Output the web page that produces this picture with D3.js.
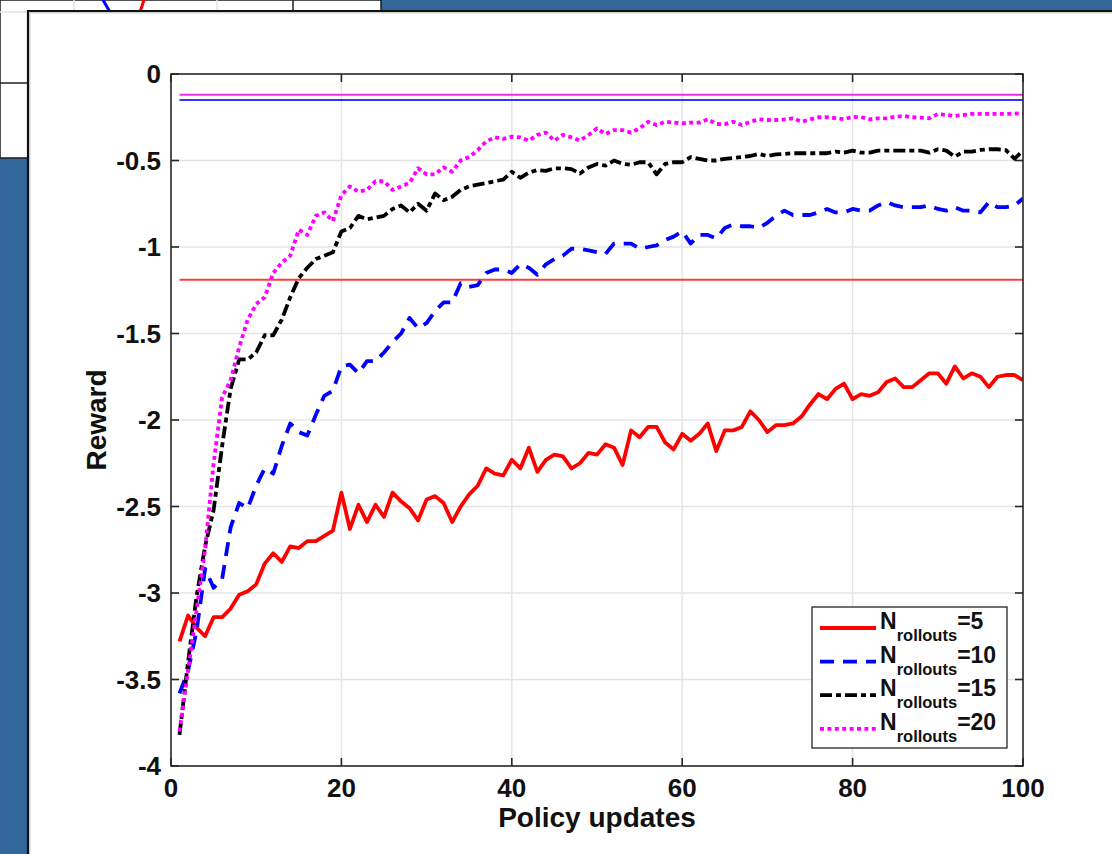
<!DOCTYPE html>
<html>
<head>
<meta charset="utf-8">
<script src="https://cdn.jsdelivr.net/npm/d3@7"></script>
<style>
  html, body { margin: 0; padding: 0; background: #fff; }
  svg { display: block; }
  text { font-family: "Liberation Sans", Arial, Helvetica, sans-serif; font-weight: bold; fill: #111; }
</style>
</head>
<body>
<svg id="chart" width="1112" height="854"></svg>
<script>
// policy updates 1..100
const updates = d3.range(1, 101);

// reward per update
const rollouts5 = [
  -3.28,-3.13,-3.20,-3.25,-3.14,-3.14,-3.09,-3.01,-2.99,-2.95,
  -2.83,-2.77,-2.82,-2.73,-2.74,-2.70,-2.70,-2.67,-2.64,-2.42,
  -2.63,-2.49,-2.59,-2.49,-2.56,-2.42,-2.47,-2.51,-2.58,-2.46,
  -2.44,-2.48,-2.59,-2.50,-2.43,-2.38,-2.28,-2.31,-2.32,-2.23,
  -2.28,-2.16,-2.30,-2.23,-2.20,-2.21,-2.28,-2.25,-2.19,-2.20,
  -2.14,-2.16,-2.26,-2.06,-2.10,-2.04,-2.04,-2.13,-2.17,-2.08,
  -2.12,-2.08,-2.02,-2.18,-2.06,-2.06,-2.04,-1.95,-2.00,-2.07,
  -2.03,-2.03,-2.02,-1.98,-1.91,-1.85,-1.88,-1.82,-1.79,-1.88,
  -1.85,-1.86,-1.84,-1.78,-1.76,-1.81,-1.81,-1.77,-1.73,-1.73,
  -1.79,-1.69,-1.76,-1.73,-1.75,-1.81,-1.75,-1.74,-1.74,-1.77
];
const rollouts10 = [
  -3.58,-3.45,-3.22,-2.86,-2.97,-2.92,-2.62,-2.48,-2.51,-2.38,
  -2.28,-2.31,-2.15,-2.02,-2.07,-2.09,-1.97,-1.86,-1.83,-1.69,
  -1.68,-1.73,-1.66,-1.66,-1.61,-1.55,-1.50,-1.41,-1.47,-1.44,
  -1.37,-1.32,-1.32,-1.21,-1.23,-1.22,-1.15,-1.13,-1.13,-1.15,
  -1.10,-1.12,-1.16,-1.10,-1.07,-1.05,-1.01,-1.01,-1.02,-1.03,
  -1.04,-0.98,-0.98,-0.98,-1.01,-1.00,-0.99,-0.96,-0.94,-0.91,
  -0.98,-0.93,-0.93,-0.95,-0.89,-0.87,-0.88,-0.88,-0.89,-0.86,
  -0.82,-0.79,-0.815,-0.815,-0.815,-0.80,-0.78,-0.80,-0.80,-0.78,
  -0.79,-0.79,-0.76,-0.74,-0.76,-0.77,-0.77,-0.77,-0.76,-0.78,
  -0.79,-0.77,-0.79,-0.79,-0.80,-0.74,-0.77,-0.77,-0.76,-0.72
];
const rollouts15 = [
  -3.82,-3.40,-3.02,-2.73,-2.52,-2.15,-1.82,-1.65,-1.65,-1.61,
  -1.51,-1.51,-1.42,-1.29,-1.18,-1.12,-1.07,-1.05,-1.03,-0.91,
  -0.89,-0.82,-0.84,-0.83,-0.82,-0.78,-0.76,-0.80,-0.75,-0.79,
  -0.69,-0.73,-0.71,-0.67,-0.65,-0.64,-0.63,-0.62,-0.61,-0.565,
  -0.60,-0.57,-0.555,-0.56,-0.545,-0.545,-0.55,-0.575,-0.54,-0.52,
  -0.53,-0.50,-0.52,-0.525,-0.51,-0.51,-0.58,-0.52,-0.51,-0.51,
  -0.48,-0.49,-0.50,-0.50,-0.49,-0.485,-0.48,-0.474,-0.462,-0.474,
  -0.465,-0.462,-0.458,-0.458,-0.458,-0.458,-0.458,-0.449,-0.455,-0.443,
  -0.455,-0.455,-0.443,-0.443,-0.443,-0.443,-0.443,-0.443,-0.455,-0.435,
  -0.443,-0.478,-0.449,-0.449,-0.439,-0.435,-0.435,-0.440,-0.49,-0.443
];
const rollouts20 = [
  -3.80,-3.45,-3.10,-2.75,-2.25,-1.87,-1.77,-1.58,-1.42,-1.33,
  -1.29,-1.15,-1.09,-1.05,-0.90,-0.93,-0.82,-0.80,-0.85,-0.70,
  -0.65,-0.68,-0.67,-0.62,-0.62,-0.67,-0.65,-0.63,-0.545,-0.58,
  -0.58,-0.54,-0.565,-0.50,-0.48,-0.44,-0.39,-0.366,-0.375,-0.362,
  -0.366,-0.385,-0.352,-0.339,-0.385,-0.352,-0.366,-0.385,-0.352,-0.314,
  -0.347,-0.324,-0.324,-0.339,-0.314,-0.276,-0.295,-0.276,-0.281,-0.285,
  -0.281,-0.281,-0.262,-0.289,-0.29,-0.276,-0.295,-0.276,-0.262,-0.266,
  -0.266,-0.262,-0.256,-0.276,-0.262,-0.25,-0.25,-0.255,-0.262,-0.247,
  -0.25,-0.262,-0.256,-0.256,-0.247,-0.243,-0.25,-0.252,-0.256,-0.231,
  -0.237,-0.243,-0.237,-0.231,-0.231,-0.231,-0.231,-0.231,-0.229,-0.227
];

// flat reference levels (one per colour)
const refLevels = [-1.19, -0.15, -0.12];

const seriesNames = ["5", "10", "15", "20"];
const xTicks = [0, 20, 40, 60, 80, 100];
const yTicks = [0, -0.5, -1, -1.5, -2, -2.5, -3, -3.5, -4];
const yTickLabels = ["0", "-0.5", "-1", "-1.5", "-2", "-2.5", "-3", "-3.5", "-4"];

const svg = d3.select("#chart");

// ---- desktop behind the figure window ----
svg.append("rect").attr("width", 1112).attr("height", 854).attr("fill", "#33679a");
svg.append("rect").attr("x", 0).attr("y", 0).attr("width", 381).attr("height", 158)
  .attr("fill", "#fff").attr("stroke", "#1a1a1a").attr("stroke-width", 1.5);
const bg = svg.append("g");
bg.selectAll("line.bgv").data([74, 217]).enter().append("line")
  .attr("x1", d => d).attr("x2", d => d).attr("y1", 0).attr("y2", 12)
  .attr("stroke", "#e3e3e3").attr("stroke-width", 1.5);
bg.append("line").attr("x1", 0).attr("x2", 30).attr("y1", 12).attr("y2", 12)
  .attr("stroke", "#e3e3e3").attr("stroke-width", 1.5);
bg.append("line").attr("x1", 293).attr("x2", 293).attr("y1", 0).attr("y2", 12)
  .attr("stroke", "#222").attr("stroke-width", 1.5);
bg.append("line").attr("x1", 0).attr("x2", 30).attr("y1", 83).attr("y2", 83)
  .attr("stroke", "#222").attr("stroke-width", 1.5);
bg.append("path").attr("d", "M103,0 L110,12").attr("stroke", "#0000ff").attr("stroke-width", 3).attr("fill", "none");
bg.append("path").attr("d", "M144,0 L140,12").attr("stroke", "#ff0000").attr("stroke-width", 3).attr("fill", "none");

// ---- figure window ----
svg.append("rect").attr("x", 28).attr("y", 11).attr("width", 1090).attr("height", 850)
  .attr("fill", "#fff");
svg.append("path").attr("d", "M28,860 L28,11 L1112,11")
  .attr("fill", "none").attr("stroke", "#111").attr("stroke-width", 2.2);
svg.append("path").attr("d", "M29.8,860 L29.8,12.8 L1112,12.8")
  .attr("fill", "none").attr("stroke", "#bbb").attr("stroke-width", 1);

// ---- axes ----
const x = d3.scaleLinear().domain([0, 100]).range([171, 1023]);
const y = d3.scaleLinear().domain([-4, 0]).range([766, 74]);

const grid = svg.append("g");
grid.selectAll("line.gx").data(xTicks.slice(1, -1)).enter().append("line")
  .attr("x1", d => x(d)).attr("x2", d => x(d)).attr("y1", y(0)).attr("y2", y(-4))
  .attr("stroke", "#e4e4e4").attr("stroke-width", 1.5);
grid.selectAll("line.gy").data(yTicks.slice(1, -1)).enter().append("line")
  .attr("x1", x(0)).attr("x2", x(100)).attr("y1", d => y(d)).attr("y2", d => y(d))
  .attr("stroke", "#e4e4e4").attr("stroke-width", 1.5);

// reference levels
const refColors = ["#ff3c3c", "#3535ff", "#ea2fea"];
svg.selectAll("line.ref").data(refLevels).enter().append("line")
  .attr("x1", x(1)).attr("x2", x(100))
  .attr("y1", d => y(d)).attr("y2", d => y(d))
  .attr("stroke", (d, i) => refColors[i]).attr("stroke-width", 2);

// curves
const series = [rollouts5, rollouts10, rollouts15, rollouts20];
const colors = ["#ff0000", "#0000ff", "#000000", "#ff00ff"];
const dashes = [null, "14,9", "12,4,5,4", "4,3.4"];

const line = d3.line()
  .x((d, i) => x(updates[i]))
  .y(d => y(d));

const clip = svg.append("clipPath").attr("id", "plotclip");
clip.append("rect").attr("x", x(0)).attr("y", y(0)).attr("width", x(100) - x(0)).attr("height", y(-4) - y(0));

svg.append("g").attr("clip-path", "url(#plotclip)")
  .selectAll("path.s").data(series).enter().append("path")
  .attr("d", line)
  .attr("fill", "none")
  .attr("stroke", (d, i) => colors[i])
  .attr("stroke-width", 3.8)
  .attr("stroke-linejoin", "round")
  .attr("stroke-dasharray", (d, i) => dashes[i]);

// box + ticks
const axisColor = "#262626";
svg.append("rect").attr("x", x(0)).attr("y", y(0)).attr("width", x(100) - x(0)).attr("height", y(-4) - y(0))
  .attr("fill", "none").attr("stroke", axisColor).attr("stroke-width", 1.6);

const tickLen = 8;
const ticks = svg.append("g").attr("stroke", axisColor).attr("stroke-width", 1.6);
xTicks.forEach(t => {
  ticks.append("line").attr("x1", x(t)).attr("x2", x(t)).attr("y1", y(-4)).attr("y2", y(-4) - tickLen);
  ticks.append("line").attr("x1", x(t)).attr("x2", x(t)).attr("y1", y(0)).attr("y2", y(0) + tickLen);
});
yTicks.forEach(t => {
  ticks.append("line").attr("x1", x(0)).attr("x2", x(0) + tickLen).attr("y1", y(t)).attr("y2", y(t));
  ticks.append("line").attr("x1", x(100)).attr("x2", x(100) - tickLen).attr("y1", y(t)).attr("y2", y(t));
});

svg.selectAll("text.xt").data(xTicks).enter().append("text")
  .attr("x", d => x(d)).attr("y", 797)
  .attr("text-anchor", "middle").attr("font-size", 26)
  .text(d => d);
svg.selectAll("text.yt").data(yTicks).enter().append("text")
  .attr("x", 161).attr("y", d => y(d) + 9)
  .attr("text-anchor", "end").attr("font-size", 26)
  .text((d, i) => yTickLabels[i]);

svg.append("text").attr("x", 597).attr("y", 827)
  .attr("text-anchor", "middle").attr("font-size", 28)
  .text("Policy updates");
svg.append("text").attr("transform", "translate(106,420) rotate(-90)")
  .attr("text-anchor", "middle").attr("font-size", 28)
  .text("Reward");

// ---- legend ----
const legend = svg.append("g");
legend.append("rect").attr("x", 812).attr("y", 607).attr("width", 195).attr("height", 141)
  .attr("fill", "#fff").attr("stroke", axisColor).attr("stroke-width", 1.3);
seriesNames.forEach((n, i) => {
  const ly = 628 + i * 33.6;
  legend.append("line").attr("x1", 820).attr("x2", 876).attr("y1", ly).attr("y2", ly)
    .attr("stroke", colors[i]).attr("stroke-width", 3.8)
    .attr("stroke-dasharray", dashes[i]);
  const t = legend.append("text").attr("x", 880).attr("y", ly + 1).attr("font-size", 23);
  t.append("tspan").text("N");
  t.append("tspan").attr("dy", 12).attr("font-size", 16.5).text("rollouts");
  t.append("tspan").attr("dy", -12).text("=" + n);
});
</script>
</body>
</html>
